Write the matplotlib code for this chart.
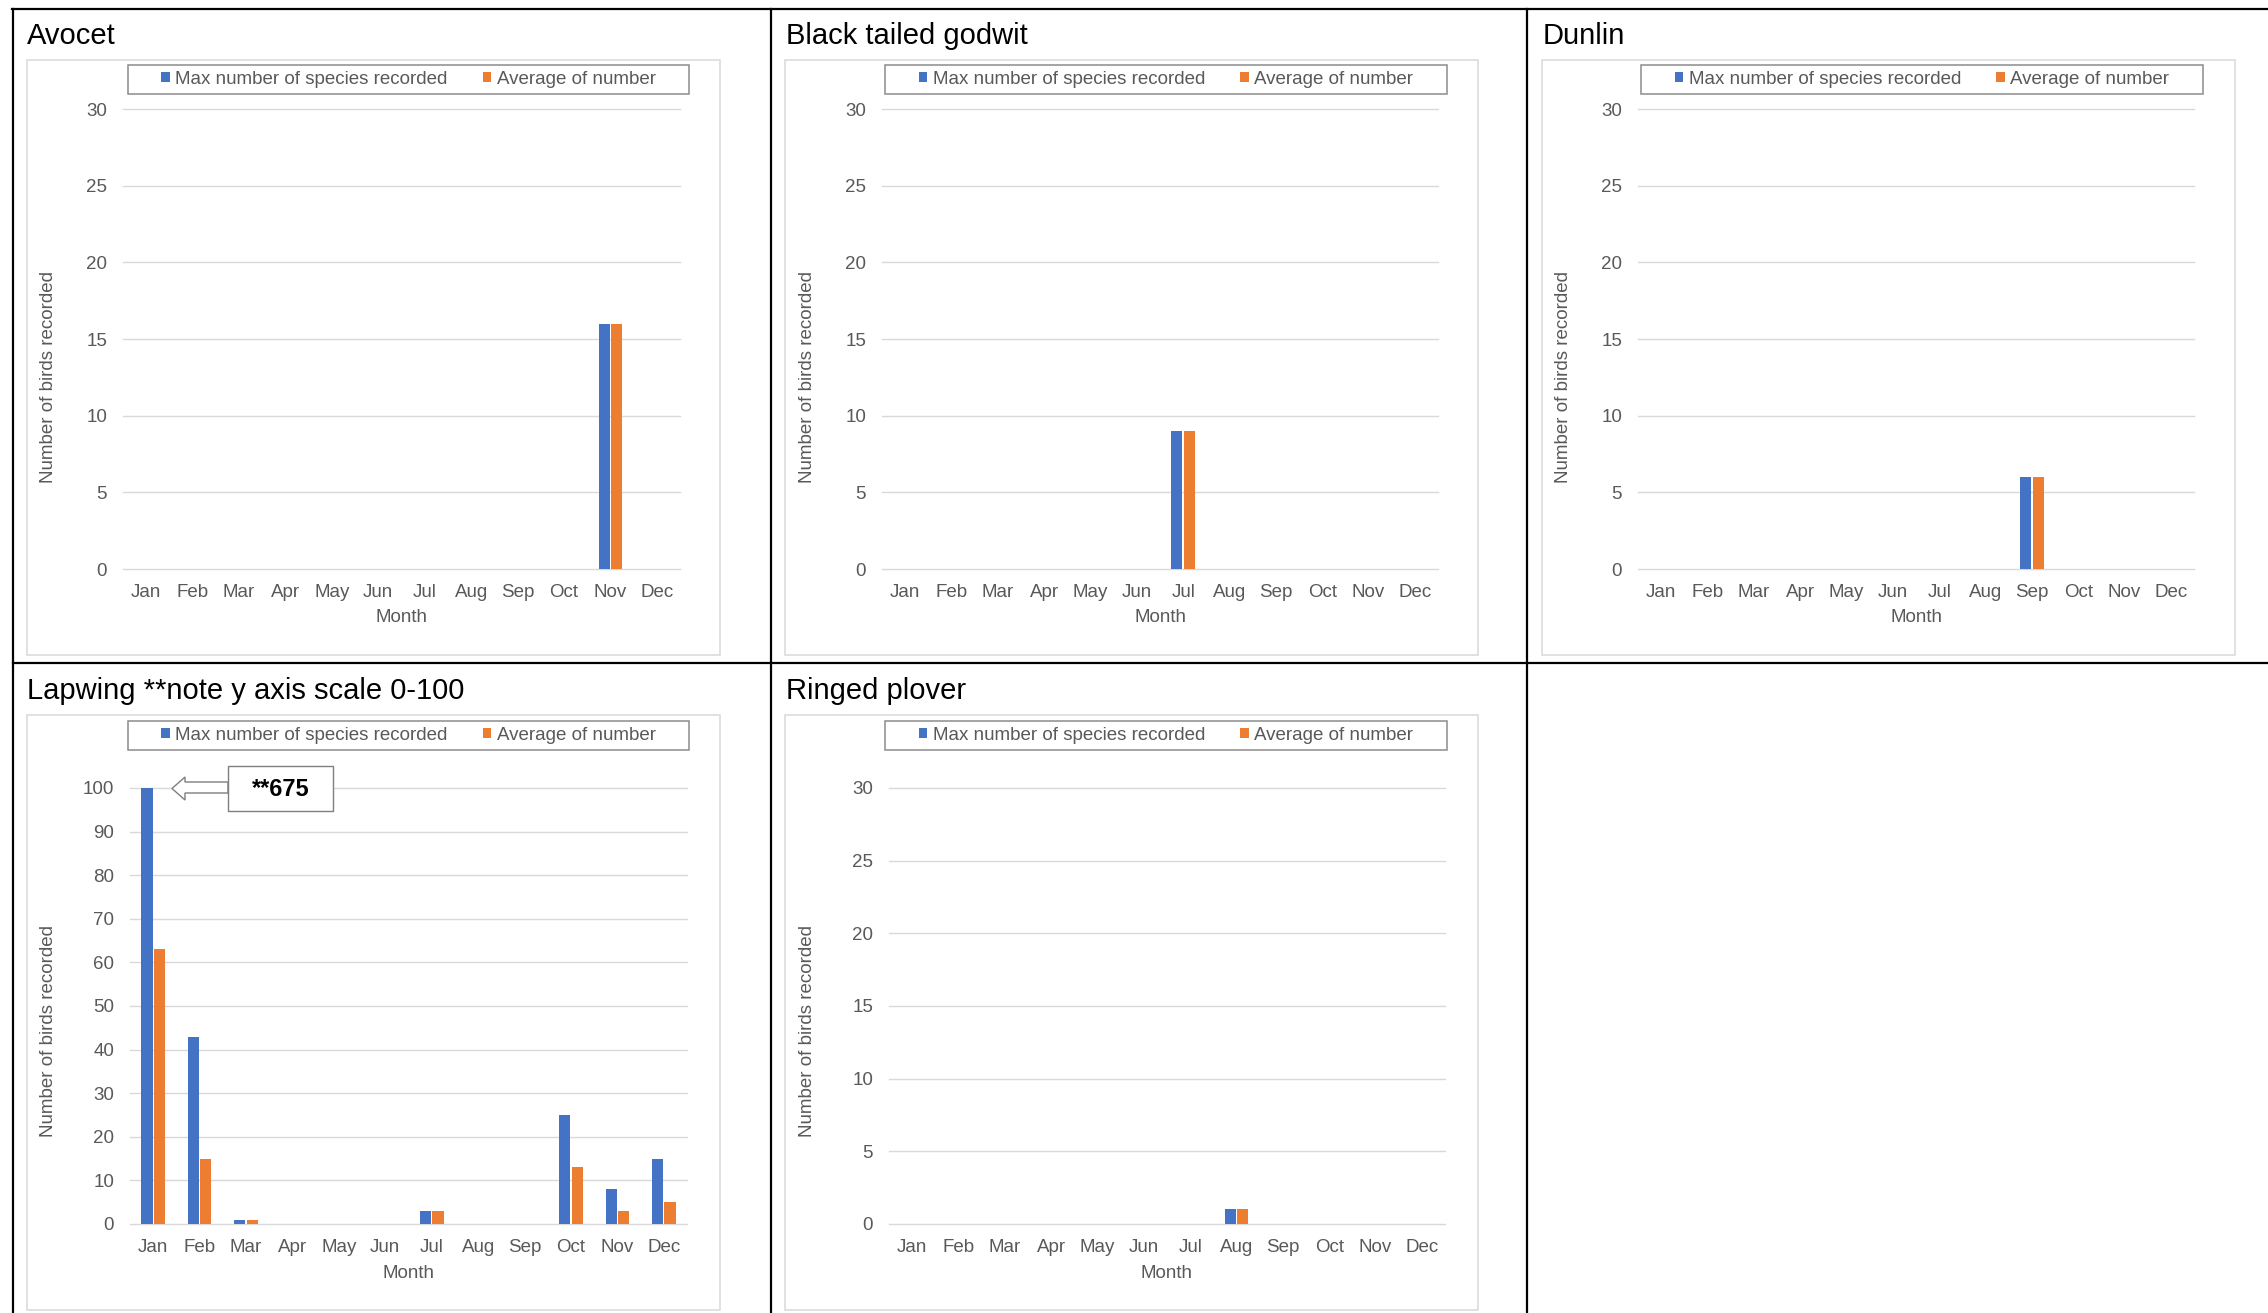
"""
Monthly wader counts: one bar chart per species, laid out in a bordered grid.
"""

import matplotlib
matplotlib.use("Agg")
import matplotlib.pyplot as plt
import numpy as np
from matplotlib.lines import Line2D
from matplotlib.patches import Polygon, Rectangle

plt.rcParams["font.family"] = ["Liberation Sans", "DejaVu Sans"]

# ── data ──
MONTHS = ["Jan", "Feb", "Mar", "Apr", "May", "Jun", "Jul", "Aug", "Sep", "Oct", "Nov", "Dec"]
SERIES = ["Max number of species recorded", "Average of number"]

AVOCET_MAX = [0, 0, 0, 0, 0, 0, 0, 0, 0, 0, 16, 0]
AVOCET_AVG = [0, 0, 0, 0, 0, 0, 0, 0, 0, 0, 16, 0]
GODWIT_MAX = [0, 0, 0, 0, 0, 0, 9, 0, 0, 0, 0, 0]
GODWIT_AVG = [0, 0, 0, 0, 0, 0, 9, 0, 0, 0, 0, 0]
DUNLIN_MAX = [0, 0, 0, 0, 0, 0, 0, 0, 6, 0, 0, 0]
DUNLIN_AVG = [0, 0, 0, 0, 0, 0, 0, 0, 6, 0, 0, 0]
LAPWING_MAX = [675, 43, 1, 0, 0, 0, 3, 0, 0, 25, 8, 15]
LAPWING_AVG = [63, 15, 1, 0, 0, 0, 3, 0, 0, 13, 3, 5]
PLOVER_MAX = [0, 0, 0, 0, 0, 0, 0, 1, 0, 0, 0, 0]
PLOVER_AVG = [0, 0, 0, 0, 0, 0, 0, 1, 0, 0, 0, 0]

BLUE = "#4472C4"
ORANGE = "#ED7D31"
GRID = "#D9D9D9"
TEXT = "#595959"

W, H, DPI = 2268, 1313, 100
FS = 13.5


def fx(x):
    return x / W


def fy(y):
    return 1 - y / H


def frame(fig, x0, y0, x1, y1, color, lw):
    fig.add_artist(Rectangle((fx(x0), fy(y1)), (x1 - x0) / W, (y1 - y0) / H,
                             transform=fig.transFigure, fill=False,
                             edgecolor=color, linewidth=lw))


def draw_panel(fig, title, vmax, vavg, ymax, ystep, col, row, plot_x):
    box_l, box_r = [(27, 720), (785, 1478), (1542, 2235)][col]
    leg_l, leg_r = [(128, 689), (885, 1447), (1641, 2203)][col]
    title_x = [27, 786, 1543][col]
    rows = [
        dict(title=44, box=(60, 655), leg=(65, 94), plot=(109, 569), xlab=618, ylab=377),
        dict(title=699, box=(715, 1310), leg=(721, 750), plot=(788, 1224), xlab=1273, ylab=1031),
    ]
    r = rows[row]

    fig.text(fx(title_x), fy(r["title"]), title, fontsize=21, va="baseline", color="black")
    frame(fig, box_l, r["box"][0], box_r, r["box"][1], GRID, 1.1)
    frame(fig, leg_l, r["leg"][0], leg_r, r["leg"][1], "#8C8C8C", 1.1)

    px0, px1 = plot_x
    py0, py1 = r["plot"]
    ax = fig.add_axes([fx(px0), fy(py1), (px1 - px0) / W, (py1 - py0) / H])

    x = np.arange(len(MONTHS))
    b1 = ax.bar(x - 0.135, vmax, 0.24, color=BLUE)
    b2 = ax.bar(x + 0.135, vavg, 0.24, color=ORANGE)

    ax.set_xlim(-0.5, len(MONTHS) - 0.5)
    ax.set_ylim(0, ymax)
    ax.set_yticks(np.arange(0, ymax + 1, ystep))
    ax.set_xticks(x)
    ax.set_xticklabels(MONTHS)
    ax.grid(axis="y", color=GRID, linewidth=1.0)
    for gl in ax.get_ygridlines():
        gl.set_clip_on(False)
    ax.set_axisbelow(True)
    for s in ax.spines.values():
        s.set_visible(False)
    ax.tick_params(axis="both", length=0, colors=TEXT, labelsize=FS)
    ax.tick_params(axis="y", pad=11.5)
    ax.tick_params(axis="x", pad=11)

    ax.set_ylabel("Number of birds recorded", fontsize=FS, color=TEXT, va="center")
    ax.yaxis.set_label_coords(fx(box_l + 22), fy(r["ylab"]), transform=fig.transFigure)
    ax.set_xlabel("Month", fontsize=FS, color=TEXT, va="center")
    ax.xaxis.set_label_coords(fx((px0 + px1) / 2), fy(r["xlab"]), transform=fig.transFigure)

    ax.legend([b1, b2], SERIES, loc="center",
              bbox_to_anchor=(fx((leg_l + leg_r) / 2), fy((r["leg"][0] + r["leg"][1]) / 2)),
              bbox_transform=fig.transFigure, ncol=2, frameon=False, fontsize=FS,
              handlelength=0.46, handleheight=0.46, handletextpad=0.3,
              columnspacing=1.85, borderpad=0, borderaxespad=0, labelcolor=TEXT)
    return ax


def main():
    fig = plt.figure(figsize=(W / DPI, H / DPI), dpi=DPI)
    fig.patch.set_facecolor("white")

    # ── table rules ──
    for xs, ys in [
        ((12, W), (9, 9)),
        ((13, W), (663, 663)),
        ((13, 13), (9, H)),
        ((771, 771), (9, H)),
        ((1527, 1527), (9, H)),
    ]:
        fig.add_artist(Line2D([fx(v) for v in xs], [fy(v) for v in ys],
                              transform=fig.transFigure, color="black", linewidth=1.6))

    draw_panel(fig, "Avocet", AVOCET_MAX, AVOCET_AVG, 30, 5, 0, 0, (123, 680))
    draw_panel(fig, "Black tailed godwit", GODWIT_MAX, GODWIT_AVG, 30, 5, 1, 0, (882, 1438))
    draw_panel(fig, "Dunlin", DUNLIN_MAX, DUNLIN_AVG, 30, 5, 2, 0, (1638, 2194))
    draw_panel(fig, "Lapwing **note y axis scale 0-100", LAPWING_MAX, LAPWING_AVG,
               100, 10, 0, 1, (130, 687))
    draw_panel(fig, "Ringed plover", PLOVER_MAX, PLOVER_AVG, 30, 5, 1, 1, (889, 1445))

    # ── callout for the off-scale January lapwing count ──
    arrow = [(228, 782), (185, 782), (185, 777), (172, 788.5),
             (185, 800), (185, 793), (228, 793)]
    fig.add_artist(Polygon([(fx(a), fy(b)) for a, b in arrow], closed=True,
                           transform=fig.transFigure, facecolor="white",
                           edgecolor="#7F7F7F", linewidth=1.0))
    fig.add_artist(Rectangle((fx(228), fy(811)), 105 / W, 45 / H,
                             transform=fig.transFigure, facecolor="white",
                             edgecolor="#7F7F7F", linewidth=1.0))
    fig.text(fx(280.5), fy(790), f"**{LAPWING_MAX[0]}", fontsize=17,
             fontweight="bold", ha="center", va="center", color="black")

    fig.savefig("out.png", dpi=DPI)
    plt.close(fig)


if __name__ == "__main__":
    main()
